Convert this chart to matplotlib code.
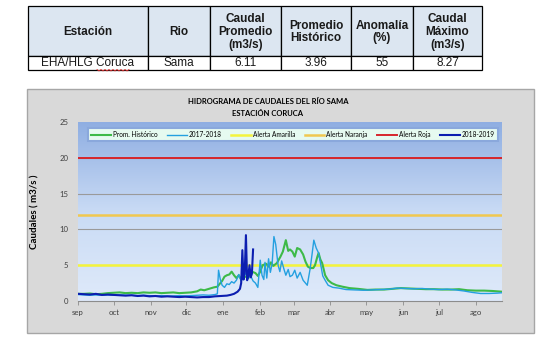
import numpy as np
import matplotlib
matplotlib.use('Agg')
import matplotlib.pyplot as plt
from matplotlib.patches import Rectangle
from matplotlib.colors import LinearSegmentedColormap

# table
headers = ['Estación', 'Rio', 'Caudal\nPromedio\n(m3/s)', 'Promedio\nHistórico', 'Anomalía\n(%)', 'Caudal\nMáximo\n(m3/s)']
row = ['EHA/HLG Coruca', 'Sama', '6.11', '3.96', '55', '8.27']

# x axis: days since 1 sep
months = ['sep', 'oct', 'nov', 'dic', 'ene', 'feb', 'mar', 'abr', 'may', 'jun', 'jul', 'ago']
month_days = [0, 30, 61, 91, 122, 153, 181, 212, 242, 273, 303, 334]

# alert levels (m3/s)
alerta_amarilla = 5
alerta_naranja = 12
alerta_roja = 20

# Prom. Histórico
hist_day = [0, 5, 10, 15, 20, 25, 30, 35, 40, 45, 50, 55, 60, 65, 70, 75, 80, 85, 90, 95,
            100, 103, 106, 110, 114, 117, 119, 121, 123, 125, 127, 129, 131, 133, 135, 137,
            139, 141, 143, 146, 149, 151, 153, 155, 158, 160, 162, 164, 167, 170, 172, 174.5,
            176.5, 178, 180, 182, 184, 186.5, 189, 191, 193, 195, 197.5, 199, 201, 202, 203.5,
            205, 207.5, 210, 213, 217, 222, 228, 235, 243, 250, 257, 264, 271, 278, 285, 292,
            299, 306, 313, 320, 327, 334, 341, 348, 356]
hist_val = [1.0, 1.0, 1.05, 0.95, 1.0, 1.1, 1.15, 1.2, 1.1, 1.15, 1.1, 1.2, 1.15, 1.2, 1.1, 1.15,
            1.2, 1.1, 1.15, 1.2, 1.35, 1.6, 1.5, 1.7, 1.9, 2.0, 2.4, 2.8, 3.4, 3.6, 3.7, 4.1, 3.6,
            3.2, 3.6, 3.0, 3.3, 3.4, 3.2, 4.1, 3.9, 3.5, 4.1, 5.0, 5.2, 4.8, 5.4, 4.9, 5.3, 6.2,
            6.9, 8.5, 7.0, 7.2, 6.9, 6.2, 7.4, 7.2, 6.5, 5.5, 4.8, 4.6, 4.6, 5.0, 6.2, 6.7, 5.8,
            5.3, 3.6, 2.9, 2.5, 2.2, 2.0, 1.8, 1.7, 1.55, 1.6, 1.6, 1.7, 1.8, 1.75, 1.7, 1.65,
            1.65, 1.6, 1.6, 1.65, 1.5, 1.45, 1.45, 1.4, 1.3]

# 2017-2018
q1718_day = [0, 5, 10, 15, 20, 25, 30, 35, 40, 45, 50, 55, 60, 65, 70, 75, 80, 85, 90, 95, 100,
             105, 110, 115, 117, 118, 119.5, 121, 123, 125, 127, 129, 131, 133, 135, 137, 139,
             141, 143, 145, 147, 149, 151, 153, 154.5, 156, 157, 158.5, 160, 161.5, 163, 164.5,
             166, 168, 169.5, 171, 173, 174.5, 176.5, 178, 180, 182, 184, 186.5, 189, 191,
             192.5, 195, 196.5, 198, 200, 202, 204, 205.5, 207.5, 210, 214, 219, 225, 232, 240,
             247, 254, 261, 268, 275, 282, 289, 296, 303, 310, 317, 324, 331, 338, 345, 352, 356]
q1718_val = [0.9, 0.85, 0.8, 0.85, 0.8, 0.85, 0.8, 0.85, 0.8, 0.8, 0.75, 0.8, 0.75, 0.7, 0.75,
             0.7, 0.7, 0.75, 0.7, 0.75, 0.8, 0.85, 0.8, 0.9, 1.0, 4.3, 3.0, 2.2, 1.9, 2.4, 2.3,
             2.7, 2.5, 2.9, 3.7, 2.8, 3.3, 3.9, 3.2, 3.5, 2.8, 2.5, 1.9, 5.7, 3.6, 3.0, 5.4, 3.2,
             5.9, 4.0, 5.2, 9.0, 7.9, 5.0, 4.1, 5.6, 4.4, 3.6, 4.4, 3.4, 3.6, 4.3, 3.2, 4.0, 2.9,
             2.5, 2.2, 4.6, 6.5, 8.5, 7.4, 6.7, 4.9, 3.5, 2.9, 2.2, 1.9, 1.8, 1.6, 1.55, 1.5,
             1.55, 1.6, 1.65, 1.8, 1.75, 1.7, 1.75, 1.65, 1.6, 1.65, 1.55, 1.4, 1.2, 1.05, 1.05,
             1.1, 1.15]

# 2018-2019
q1819_day = [0, 5, 10, 15, 20, 25, 30, 35, 40, 45, 50, 55, 60, 65, 70, 75, 80, 85, 90, 95, 100,
             105, 110, 115, 120, 125, 128, 131, 134, 136, 137, 138, 139, 140, 141, 142, 143,
             144, 145, 146, 147]
q1819_val = [1.0, 0.95, 0.9, 1.0, 0.85, 0.9, 0.85, 0.8, 0.75, 0.8, 0.7, 0.75, 0.65, 0.7, 0.6,
             0.65, 0.6, 0.55, 0.6, 0.55, 0.5, 0.55, 0.55, 0.65, 0.7, 0.75, 0.85, 1.0, 1.3, 1.7,
             2.5, 7.1, 3.0, 4.0, 9.2, 2.9, 3.5, 5.0, 3.3, 3.8, 7.2]

W, H = 552, 345
fig = plt.figure(figsize=(W / 100, H / 100), dpi=100)
fig.patch.set_facecolor('white')


def px(x, y):
    return x / W, 1 - y / H


# ---- table on top ----
col_edges = [28, 148, 210, 281, 351, 413, 482]
y_top, y_mid, y_bot = 6, 56, 70
for i in range(len(headers)):
    x0, x1 = col_edges[i], col_edges[i + 1]
    fig.patches.append(Rectangle(px(x0, y_mid), (x1 - x0) / W, (y_mid - y_top) / H,
                                 transform=fig.transFigure, facecolor='#dce6f1',
                                 edgecolor='black', linewidth=0.9))
    fig.patches.append(Rectangle(px(x0, y_bot), (x1 - x0) / W, (y_bot - y_mid) / H,
                                 transform=fig.transFigure, facecolor='white',
                                 edgecolor='black', linewidth=0.9))
    cx = (x0 + x1) / 2
    fig.text(*px(cx, (y_top + y_mid) / 2 + 1), headers[i], ha='center', va='center',
             fontsize=8.5, fontweight='bold', family='Liberation Sans', linespacing=1.1,
             color='#1a1a1a')
    fig.text(*px(cx, (y_mid + y_bot) / 2 + 0.5), row[i], ha='center', va='center',
             fontsize=8.5, family='Liberation Sans', color='#1a1a1a')
# spell check squiggle under "Coruca"
sq_x = np.arange(97, 131, 2)
sq_y = np.where(np.arange(len(sq_x)) % 2 == 0, 69.5, 71)
fig.lines.append(plt.Line2D(sq_x / W, 1 - sq_y / H, transform=fig.transFigure,
                            color='#e03030', linewidth=0.6))

# ---- chart frame ----
fig.patches.append(Rectangle(px(27, 333), (534 - 27) / W, (333 - 89) / H,
                             transform=fig.transFigure, facecolor='#d9d9d9',
                             edgecolor='#a6a6a6', linewidth=1.0, zorder=-5))

ax = fig.add_axes([78 / W, 1 - 301 / H, (502 - 78) / W, (301 - 122) / H])
ax.set_zorder(2)
ax.set_xlim(0, 356)
ax.set_ylim(0, 25)

cmap = LinearSegmentedColormap.from_list('bg', ['#dfeafa', '#c9dbf5', '#8faee2'])
grad = np.linspace(0, 1, 256).reshape(-1, 1)
ax.imshow(grad, extent=[0, 356, 0, 25], origin='lower', aspect='auto', cmap=cmap, zorder=0)

for g in [5, 10, 15, 20]:
    ax.axhline(g, color='#9a9a9a', linewidth=0.8, zorder=1)

ax.plot(hist_day, hist_val, color='#3dba48', linewidth=1.5, label='Prom. Histórico', zorder=3)
ax.plot(q1718_day, q1718_val, color='#24a0e0', linewidth=1.0, label='2017-2018', zorder=3)
ax.axhline(alerta_amarilla, color='#f4f43c', linewidth=1.8, label='Alerta Amarilla', zorder=2)
ax.axhline(alerta_naranja, color='#f0c850', linewidth=1.8, label='Alerta Naranja', zorder=2)
ax.axhline(alerta_roja, color='#d7262c', linewidth=1.4, label='Alerta Roja', zorder=2)
ax.plot(q1819_day, q1819_val, color='#0c1eb0', linewidth=1.5, label='2018-2019', zorder=4)

leg = ax.legend(loc='lower left', bbox_to_anchor=(0.024, 0.894, 0.966, 0.09), mode='expand',
                ncol=6, frameon=True, fancybox=False, handlelength=3.0,
                handletextpad=0.3, borderaxespad=0, borderpad=0.45,
                prop={'family': 'Lato', 'size': 4.7})
leg.get_frame().set_facecolor('#e6faf0')
leg.get_frame().set_edgecolor('#8aa8dc')
leg.get_frame().set_linewidth(1.5)
leg.get_frame().set_alpha(1)

ax.set_yticks([0, 5, 10, 15, 20, 25])
ax.set_xticks(month_days)
ax.set_xticklabels(months)
ax.tick_params(axis='y', length=0, pad=7, labelsize=5.6, labelcolor='#404040')
ax.tick_params(axis='x', length=3, width=0.6, color='#8c8c8c', pad=3, labelsize=5.6,
               labelcolor='#404040')
for lab in ax.get_xticklabels() + ax.get_yticklabels():
    lab.set_family('Lato')
for s in ['top', 'right', 'left']:
    ax.spines[s].set_visible(False)
ax.spines['bottom'].set_color('#8c8c8c')
ax.spines['bottom'].set_linewidth(0.8)

ax.set_ylabel('Caudales ( m3/s )', fontsize=7, fontweight='bold', family='Lato')
ax.yaxis.set_label_coords(-0.09, 0.5)

fig.text(*px(268, 101), 'HIDROGRAMA DE CAUDALES DEL RÍO SAMA', ha='center', va='center',
         fontsize=5.5, fontweight='bold', family='Lato')
fig.text(*px(268, 113), 'ESTACIÓN CORUCA', ha='center', va='center',
         fontsize=5.5, fontweight='bold', family='Lato')

fig.savefig('out.png', dpi=100)
